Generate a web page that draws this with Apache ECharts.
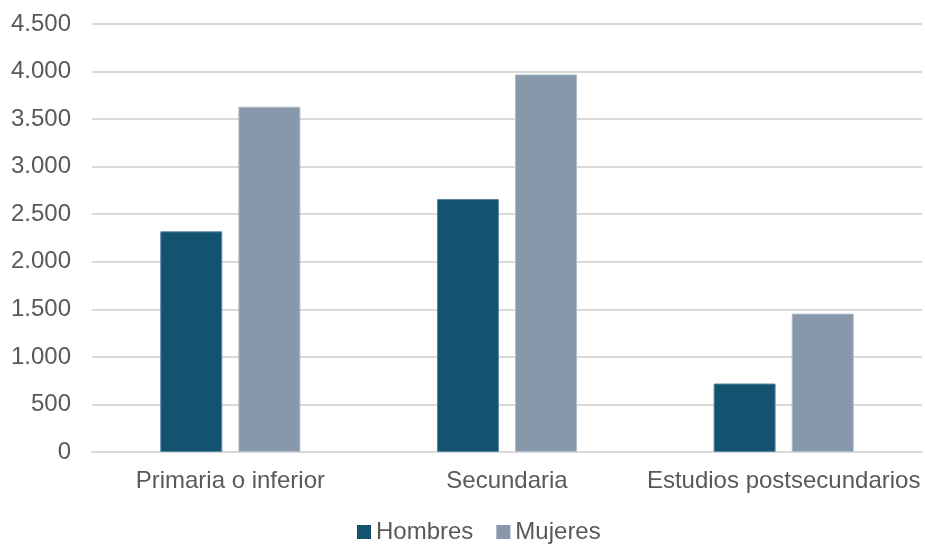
<!DOCTYPE html>
<html>
<head>
<meta charset="utf-8">
<script src="https://cdn.jsdelivr.net/npm/echarts@6/dist/echarts.min.js"></script>
<style>html,body{margin:0;padding:0;background:#fff}#main{width:925px;height:546px}</style>
</head>
<body>
<div id="main"></div>
<script>
// datos
const categorias = ['Primaria o inferior', 'Secundaria', 'Estudios postsecundarios'];
const hombres = [2320, 2660, 720];
const mujeres = [3630, 3970, 1455];
const ticksY = [0, 500, 1000, 1500, 2000, 2500, 3000, 3500, 4000, 4500];

const myChart = echarts.init(document.getElementById('main'));

const fmt = v => String(v).replace(/\B(?=(\d{3})+(?!\d))/g, '.');

option = {
	backgroundColor: '#fff',
	animation: false,
	textStyle: { fontFamily: '"Liberation Sans", Arial, sans-serif' },
	grid: { left: 92, right: 3, top: 24, bottom: 94 },
	legend: {
		top: 515,
		left: 352,
		icon: 'rect',
		itemWidth: 14,
		itemHeight: 14,
		itemGap: 23,
		itemStyle: { borderWidth: 0 },
		textStyle: { color: '#595959', fontSize: 24 },
		data: ['Hombres', 'Mujeres']
	},
	xAxis: {
		type: 'category',
		data: categorias,
		axisLine: { show: true, lineStyle: { color: '#d9d9d9', width: 2 } },
		axisTick: { show: false },
		axisLabel: { color: '#595959', fontSize: 24, margin: 17, interval: 0 }
	},
	yAxis: {
		type: 'value',
		min: ticksY[0],
		max: ticksY[ticksY.length - 1],
		interval: 500,
		axisLine: { show: false },
		axisTick: { show: false },
		axisLabel: { color: '#595959', fontSize: 24, margin: 21, formatter: fmt },
		splitLine: { lineStyle: { color: '#d9d9d9', width: 2 } }
	},
	series: [
		{
			name: 'Hombres',
			type: 'bar',
			data: hombres,
			barWidth: 62,
			barGap: '26%',
			itemStyle: { color: '#145370', borderColor: '#5a86a0', borderWidth: 1 }
		},
		{
			name: 'Mujeres',
			type: 'bar',
			data: mujeres,
			barWidth: 62,
			itemStyle: { color: '#8698aa', borderColor: '#aebccb', borderWidth: 1 }
		}
	]
};

myChart.setOption(option);
</script>
</body>
</html>
